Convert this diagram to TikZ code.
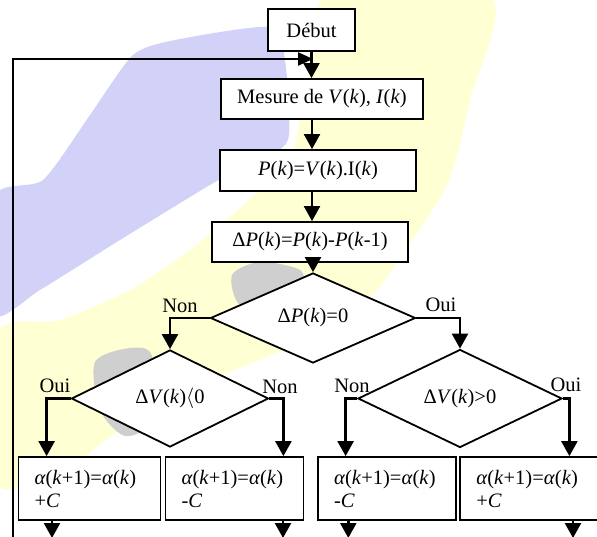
\documentclass[tikz,border=0pt]{standalone}
\usepackage{fontspec}
\setmainfont{Liberation Serif}
\usetikzlibrary{arrows.meta,shapes.geometric,calc}
\definecolor{wmblue}{HTML}{D2D2F8}
\definecolor{wmyellow}{HTML}{FFFFD4}
\definecolor{wmgray}{HTML}{CFCFCF}
\begin{document}
\begin{tikzpicture}[x=1pt,y=-1pt,
  every node/.style={font=\fontsize{20.5}{23}\selectfont},
  box/.style={draw, line width=1.8pt, fill=white, inner sep=0pt},
  dia/.style={diamond, draw, line width=1.8pt, fill=white, inner sep=0pt},
  abox/.style={box, minimum height=63pt, inner xsep=16pt, align=left},
  conn/.style={line width=2.4pt},
  arr/.style={conn, -{Triangle[width=16pt,length=15pt]}},
  looparr/.style={conn, line join=miter, -{Triangle[width=13pt,length=15pt]}},
  lbl/.style={inner sep=0pt}]
\path[use as bounding box] (0,0) rectangle (597,537);
\clip (0,0) rectangle (597,537);
% watermark
\fill[wmyellow] plot[smooth cycle, tension=0.5] coordinates {(331,-5) (490,-5) (470,100) (449,180) (419,230) (377,290) (330,330) (297,345) (200,385) (120,430) (60,473) (-5,482) (-5,335) (60,320) (130,290) (190,250) (232,215) (262,188) (290,160) (302,110) (315,50)};
\fill[wmblue] plot[smooth cycle, tension=0.4] coordinates {(133,55) (175,40) (270,27) (285,60) (288,140) (250,165) (215,182) (120,240) (40,290) (-5,314) (-5,196) (43,180) (90,115)};
\fill[wmgray] plot[smooth cycle] coordinates {(232,275) (260,262) (300,270) (302,290) (275,300) (240,305)};
\fill[wmgray] plot[smooth cycle] coordinates {(95,362) (130,348) (152,356) (152,420) (125,436) (100,410)};
% nodes
\node[box, minimum width=87pt, minimum height=42pt] (debut) at (311.5,30) {Début};
\node[box, minimum width=202pt, minimum height=40pt] (mes) at (322,99) {Mesure de \textit{V}(\textit{k}), \textit{I}(\textit{k})};
\node[box, minimum width=196pt, minimum height=41pt] (pk) at (318,170.5) {\textit{P}(\textit{k})=\textit{V}(\textit{k}).I(\textit{k})};
\node[box, minimum width=196pt, minimum height=40pt] (dp) at (310,242) {Δ\textit{P}(\textit{k})=\textit{P}(\textit{k})-\textit{P}(\textit{k}-1)};
\node[dia, minimum width=205pt, minimum height=90pt] (d1) at (313,318) {Δ\textit{P}(\textit{k})=0};
\node[dia, minimum width=197pt, minimum height=97pt] (d2) at (170,398.5) {Δ\textit{V}(\textit{k})$\langle$0};
\node[dia, minimum width=204pt, minimum height=98pt] (d3) at (460,398.5) {Δ\textit{V}(\textit{k})>0};
\node[abox, text width=110pt] (b1) at (89.5,488.5) {\textit{α}(\textit{k}+1)=\textit{α}(\textit{k})\\+\textit{C}};
\node[abox, text width=106pt] (b2) at (234.5,488.5) {\textit{α}(\textit{k}+1)=\textit{α}(\textit{k})\\-\textit{C}};
\node[abox, text width=106pt] (b3) at (387,488.5) {\textit{α}(\textit{k}+1)=\textit{α}(\textit{k})\\-\textit{C}};
\node[abox, text width=128pt] (b4) at (540.3,488.5) {\textit{α}(\textit{k}+1)=\textit{α}(\textit{k})\\+\textit{C}};
% labels
\node[lbl] (non1) at (180,306) {Non};
\node[lbl] (oui1) at (441,305) {Oui};
\node[lbl] (oui2) at (55,386) {Oui};
\node[lbl] (non2) at (280,387) {Non};
\node[lbl] (non3) at (352,386) {Non};
\node[lbl] (oui3) at (566,385) {Oui};
% connectors
\coordinate (lb) at (13,545);
\coordinate (lt) at (13,59);
\coordinate (lr) at (313,59);
\draw[looparr] (lb) -- (lt) -- (lr);
\draw[arr] (debut.south) -- (debut.south |- mes.north);
\coordinate (ax) at (312,0);
\draw[arr] (ax |- mes.south) -- (ax |- pk.north);
\draw[arr] (ax |- pk.south) -- (ax |- dp.north);
\draw[arr] (d1.north |- dp.south) -- (d1.north);
\draw[arr] (d1.west) -| (d2.north);
\draw[arr] (d1.east) -| (d3.north);
\draw[arr] (d2.west) -| ([xshift=29pt]b1.north west);
\draw[arr] (d2.east) -| ([xshift=-21pt]b2.north east);
\draw[arr] (d3.west) -| ([xshift=28.5pt]b3.north west);
\draw[arr] (d3.east) -| ([xshift=110pt]b4.north west);
\coordinate (e1) at (52,538);
\coordinate (e2) at (283,538);
\coordinate (e3) at (348.3,538);
\coordinate (e4) at (573,538);
\draw[arr] (e1 |- b1.south) -- (e1);
\draw[arr] (e2 |- b2.south) -- (e2);
\draw[arr] (e3 |- b3.south) -- (e3);
\draw[arr] (e4 |- b4.south) -- (e4);
\end{tikzpicture}
\end{document}
